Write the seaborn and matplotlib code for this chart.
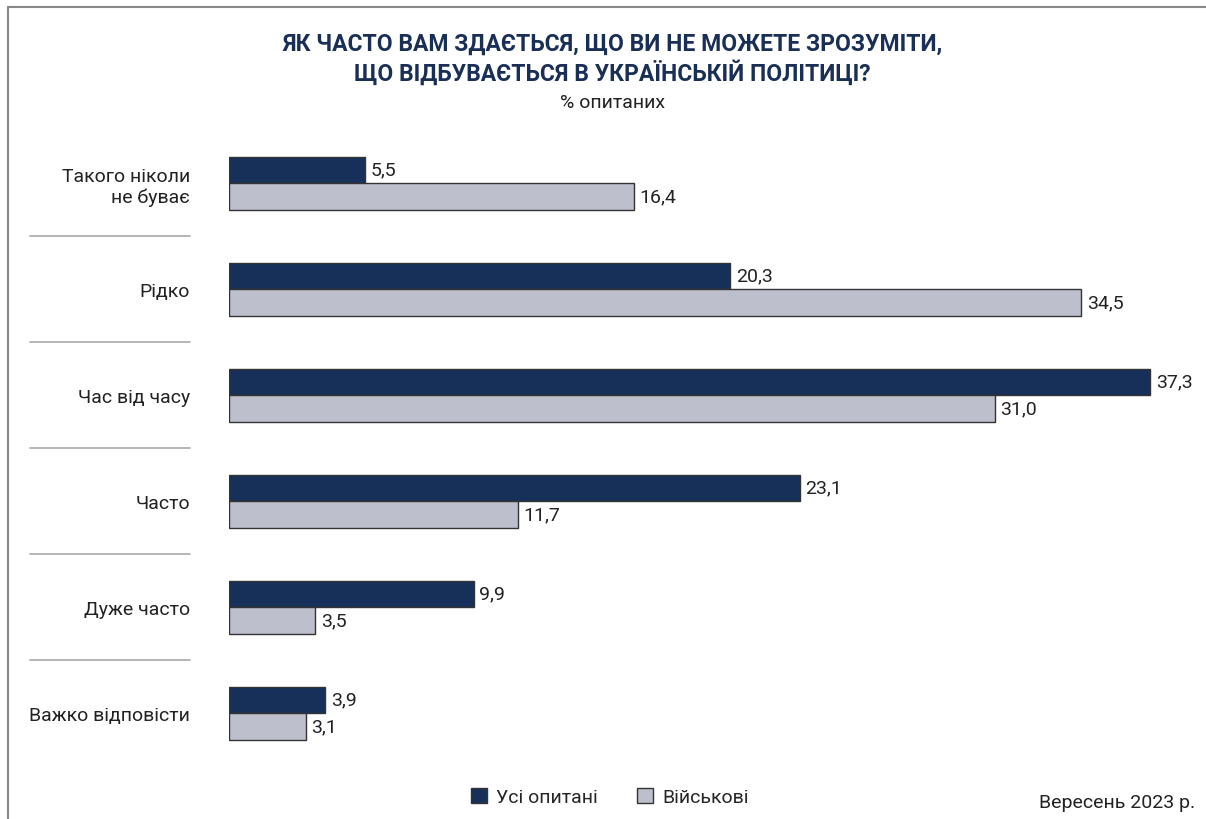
import numpy as np
import pandas as pd
import matplotlib.pyplot as plt
import matplotlib.transforms as mtransforms
import matplotlib.patches as mpatches
from matplotlib.lines import Line2D
import seaborn as sns

# data
categories = ["Такого ніколи\nне буває", "Рідко", "Час від часу",
              "Часто", "Дуже часто", "Важко відповісти"]
all_resp = [5.5, 20.3, 37.3, 23.1, 9.9, 3.9]
military = [16.4, 34.5, 31.0, 11.7, 3.5, 3.1]
series_names = ["Усі опитані", "Військові"]

DARK = "#17305a"
LIGHT = "#bdbfcc"
TITLE_COL = "#1a2f55"

sns.set_theme(style="white")
plt.rcParams["font.family"] = ["Roboto", "DejaVu Sans"]

df = pd.DataFrame({
    "cat": categories * 2,
    "val": all_resp + military,
    "grp": [series_names[0]] * len(categories) + [series_names[1]] * len(categories),
})

W, H = 1206, 820
fig = plt.figure(figsize=(W / 100, H / 100), dpi=100)
ax = fig.add_axes([229 / W, 1 - 767 / H, (1190 - 229) / W, (767 - 131) / H])

sns.barplot(data=df, y="cat", x="val", hue="grp", order=categories,
            hue_order=series_names, palette=[DARK, LIGHT], width=0.5,
            saturation=1, orient="h", edgecolor="#333333", linewidth=1.0,
            ax=ax, legend=False)

ax.set_xlim(0, (1190 - 229) / 24.7)
ax.set_ylim(len(categories) - 0.5, -0.5)
for s in ax.spines.values():
    s.set_visible(False)
ax.set_xticks([])
ax.set_xlabel("")
ax.set_ylabel("")
ax.tick_params(axis="y", length=0, pad=28, labelsize=14, labelcolor="#222222")

for cont in ax.containers:
    vals = cont.datavalues
    ax.bar_label(cont, labels=[f"{v:.1f}".replace(".", ",") for v in vals],
                 padding=4, fontsize=14, color="#222222")

# separators between categories
tr = mtransforms.blended_transform_factory(fig.transFigure, ax.transData)
for i in range(len(categories) - 1):
    ax.add_line(Line2D([30 / W, 190 / W], [i + 0.5, i + 0.5], transform=tr,
                       color="#aaaaaa", lw=1.2, clip_on=False))

# frame lines
fig.add_artist(Line2D([8 / W, 1], [1 - 8 / H, 1 - 8 / H], color="#888888", lw=1.5))
fig.add_artist(Line2D([8 / W, 8 / W], [0, 1 - 8 / H], color="#888888", lw=1.5))

fig.text(612 / W, 1 - 44 / H, "ЯК ЧАСТО ВАМ ЗДАЄТЬСЯ, ЩО ВИ НЕ МОЖЕТЕ ЗРОЗУМІТИ,",
         ha="center", va="center", fontsize=16.5, fontweight="bold", color=TITLE_COL)
fig.text(612 / W, 1 - 73 / H, "ЩО ВІДБУВАЄТЬСЯ В УКРАЇНСЬКІЙ ПОЛІТИЦІ?",
         ha="center", va="center", fontsize=16.5, fontweight="bold", color=TITLE_COL)
fig.text(612 / W, 1 - 103 / H, "% опитаних", ha="center", va="center",
         fontsize=14, color="#222222")

handles = [mpatches.Patch(facecolor=DARK, edgecolor="#333333", label=series_names[0]),
           mpatches.Patch(facecolor=LIGHT, edgecolor="#333333", label=series_names[1])]
fig.legend(handles=handles, loc="center", bbox_to_anchor=(610 / W, 1 - 798 / H),
           ncol=2, frameon=False, fontsize=14, handlelength=0.8, handleheight=0.8,
           handletextpad=0.5, columnspacing=2.0)

fig.text(1195 / W, 1 - 803 / H, "Вересень 2023 р.", ha="right", va="center",
         fontsize=14, color="#222222")

fig.savefig("out.png", dpi=100)
